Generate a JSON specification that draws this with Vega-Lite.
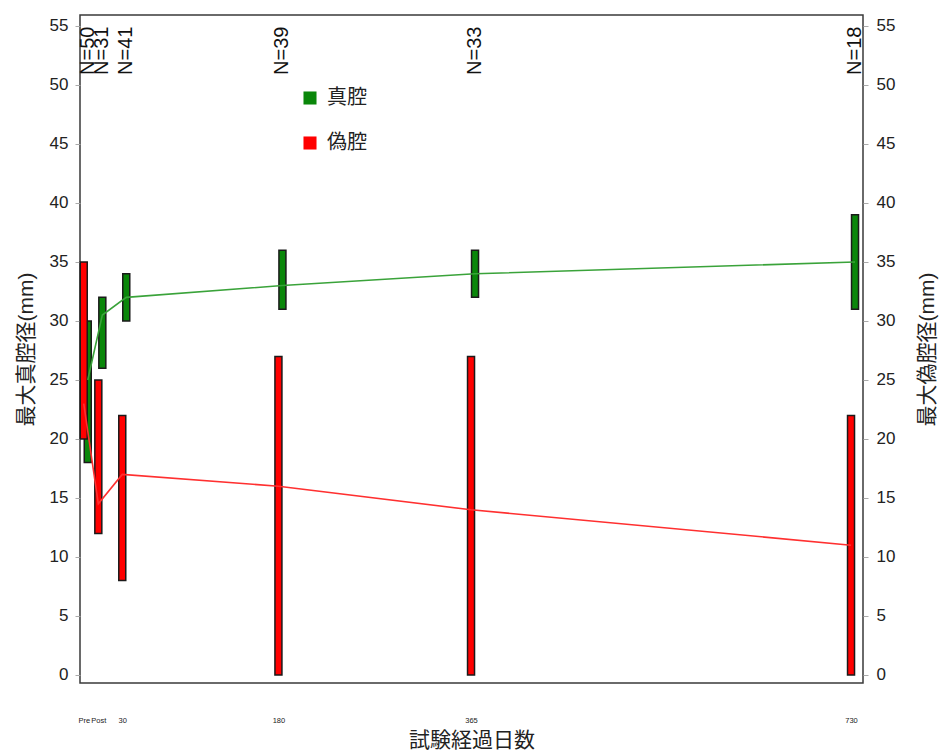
{
  "$schema": "https://vega.github.io/schema/vega-lite/v6.json",
  "width": 783,
  "height": 668,
  "autosize": {"type": "none"},
  "padding": {"left": 80, "top": 15, "right": 76, "bottom": 71},
  "background": "white",
  "config": {
    "view": {"stroke": "#3a3a3a", "strokeWidth": 1.5},
    "font": "Liberation Sans, Noto Sans CJK JP",
    "axis": {"grid": false, "domain": false, "labelColor": "#222", "titleColor": "#222", "titleFontWeight": "normal"}
  },
  "data": {
    "values": [
      {"cavity": "真腔", "day": -7, "low": 18, "high": 30, "mean": 25, "N": "N=50"},
      {"cavity": "真腔", "day": 7, "low": 26, "high": 32, "mean": 30.5, "N": "N=31"},
      {"cavity": "真腔", "day": 30, "low": 30, "high": 34, "mean": 32, "N": "N=41"},
      {"cavity": "真腔", "day": 180, "low": 31, "high": 36, "mean": 33, "N": "N=39"},
      {"cavity": "真腔", "day": 365, "low": 32, "high": 36, "mean": 34, "N": "N=33"},
      {"cavity": "真腔", "day": 730, "low": 31, "high": 39, "mean": 35, "N": "N=18"},
      {"cavity": "偽腔", "day": -7, "low": 20, "high": 35, "mean": 23},
      {"cavity": "偽腔", "day": 7, "low": 12, "high": 25, "mean": 14.5},
      {"cavity": "偽腔", "day": 30, "low": 8, "high": 22, "mean": 17},
      {"cavity": "偽腔", "day": 180, "low": 0, "high": 27, "mean": 16},
      {"cavity": "偽腔", "day": 365, "low": 0, "high": 27, "mean": 14},
      {"cavity": "偽腔", "day": 730, "low": 0, "high": 22, "mean": 11}
    ]
  },
  "encoding": {
    "x": {
      "field": "day",
      "type": "quantitative",
      "scale": {"domain": [-10.6, 741.5], "nice": false, "zero": false, "padding": 0},
      "axis": {
        "values": [-7, 7, 30, 180, 365, 730],
        "labelExpr": "datum.value == -7 ? 'Pre' : datum.value == 7 ? 'Post' : datum.label",
        "ticks": false,
        "labelFontSize": 7.5,
        "labelPadding": 33,
        "labelDx": 4,
        "labelFlush": false,
        "labelOverlap": false,
        "title": "試験経過日数",
        "titleFontSize": 21,
        "titlePadding": 6
      }
    }
  },
  "layer": [
    {
      "transform": [{"filter": "datum.cavity == '真腔'"}],
      "mark": {"type": "bar", "width": 7, "xOffset": 4, "stroke": "#1a1a1a", "strokeWidth": 1.5},
      "encoding": {
        "y": {
          "field": "low", "type": "quantitative",
          "scale": {"domain": [-0.68, 55.93], "nice": false, "zero": false, "padding": 0},
          "axis": {
            "values": [0, 5, 10, 15, 20, 25, 30, 35, 40, 45, 50, 55],
            "labelFontSize": 17, "tickSize": 5, "tickColor": "#aaa", "labelPadding": 7,
            "title": "最大真腔径(mm)", "titleFontSize": 21, "titlePadding": 13
          }
        },
        "y2": {"field": "high"},
        "color": {
          "field": "cavity", "type": "nominal",
          "scale": {"domain": ["真腔", "偽腔"], "range": ["#0a870a", "#ff0000"]},
          "legend": {
            "orient": "none", "legendX": 220, "legendY": 73, "title": null,
            "symbolType": "square", "symbolSize": 170, "symbolStrokeWidth": 0,
            "labelFontSize": 20, "labelFont": "Noto Sans CJK JP", "labelColor": "#222",
            "rowPadding": 25, "padding": 0, "labelOffset": 7
          }
        }
      }
    },
    {
      "transform": [{"filter": "datum.cavity == '偽腔'"}],
      "mark": {"type": "bar", "width": 7, "stroke": "#1a1a1a", "strokeWidth": 1.5},
      "encoding": {
        "y": {
          "field": "low", "type": "quantitative",
          "scale": {"domain": [-0.68, 55.93], "nice": false, "zero": false, "padding": 0},
          "axis": {
            "orient": "right",
            "values": [0, 5, 10, 15, 20, 25, 30, 35, 40, 45, 50, 55],
            "labelFontSize": 17, "tickSize": 5, "tickColor": "#aaa", "labelPadding": 8,
            "title": "最大偽腔径(mm)", "titleFontSize": 21, "titlePadding": 22,
            "titleAngle": 270, "titleBaseline": "top"
          }
        },
        "y2": {"field": "high"},
        "color": {
          "field": "cavity", "type": "nominal",
          "scale": {"domain": ["真腔", "偽腔"], "range": ["#0a870a", "#ff0000"]},
          "legend": {
            "orient": "none", "legendX": 220, "legendY": 73, "title": null,
            "symbolType": "square", "symbolSize": 170, "symbolStrokeWidth": 0,
            "labelFontSize": 20, "labelFont": "Noto Sans CJK JP", "labelColor": "#222",
            "rowPadding": 25, "padding": 0, "labelOffset": 7
          }
        }
      }
    },
    {
      "transform": [{"filter": "datum.cavity == '真腔'"}],
      "mark": {"type": "line", "xOffset": 4, "color": "#3aa33a", "strokeWidth": 1.6},
      "encoding": {
        "y": {"field": "mean", "type": "quantitative", "scale": {"domain": [-0.68, 55.93], "nice": false, "zero": false, "padding": 0}, "axis": null}
      }
    },
    {
      "transform": [{"filter": "datum.cavity == '偽腔'"}],
      "mark": {"type": "line", "color": "#ff3030", "strokeWidth": 1.6},
      "encoding": {
        "y": {"field": "mean", "type": "quantitative", "scale": {"domain": [-0.68, 55.93], "nice": false, "zero": false, "padding": 0}, "axis": null}
      }
    },
    {
      "transform": [{"filter": "datum.cavity == '真腔'"}],
      "mark": {"type": "text", "angle": 270, "align": "left", "baseline": "middle", "fontSize": 20, "font": "Liberation Sans", "color": "#111", "xOffset": 4},
      "encoding": {
        "y": {"datum": 50.85, "type": "quantitative", "scale": {"domain": [-0.68, 55.93], "nice": false, "zero": false, "padding": 0}, "axis": null},
        "text": {"field": "N"}
      }
    }
  ],
  "resolve": {"axis": {"y": "independent"}}
}
